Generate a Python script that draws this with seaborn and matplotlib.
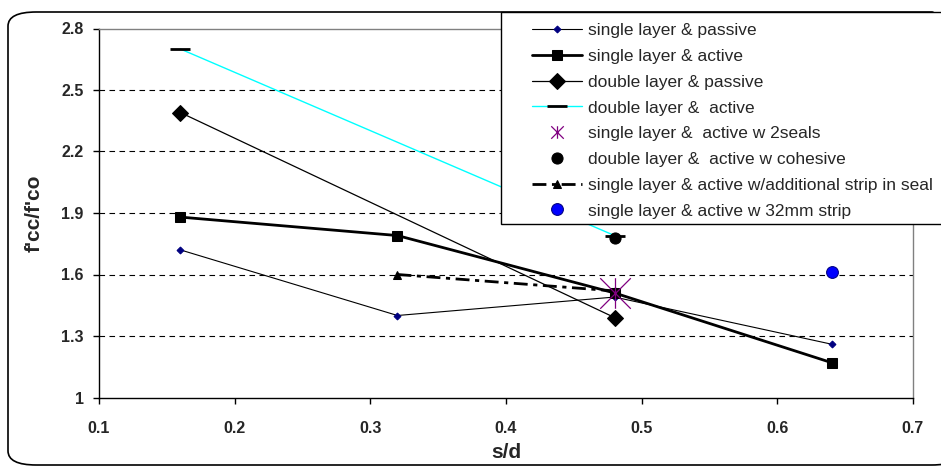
import numpy as np
import pandas as pd
import matplotlib
matplotlib.use("Agg")
import matplotlib.pyplot as plt
import seaborn as sns
from matplotlib.patches import FancyBboxPatch, Rectangle
from matplotlib.path import Path
from matplotlib.lines import Line2D

# ----------------------------
# DATA
# ----------------------------
sd_four = [0.16, 0.32, 0.48, 0.64]
sd_two = [0.16, 0.48]

single_passive = [1.72, 1.40, 1.49, 1.26]
single_active = [1.88, 1.79, 1.51, 1.17]
double_passive = [2.39, 1.39]
double_active = [2.70, 1.79]

sd_strip = [0.32, 0.48]
single_active_strip = [1.60, 1.52]

sd_2seals = [0.48]
single_active_2seals = [1.51]
sd_cohesive = [0.48]
double_active_cohesive = [1.78]
sd_32mm = [0.64]
single_active_32mm = [1.61]

x_ticks = [0.1, 0.2, 0.3, 0.4, 0.5, 0.6, 0.7]
y_ticks = [1.0, 1.3, 1.6, 1.9, 2.2, 2.5, 2.8]

# ----------------------------
# STYLE
# ----------------------------
sns.set_theme(style="white")
plt.rcParams['font.family'] = ['Liberation Sans', 'DejaVu Sans']

W, H = 941, 470
fig = plt.figure(figsize=(W / 100, H / 100), dpi=100)

# rounded chart border
fig.patches.append(FancyBboxPatch((8 / W, 1 - 465 / H), (960 - 8) / W, (465 - 12) / H,
                                  boxstyle="round,pad=0,rounding_size=0.03",
                                  transform=fig.transFigure, fill=False,
                                  edgecolor="black", linewidth=1.2, zorder=0.5))

ax = fig.add_axes([99 / W, 1 - 397.5 / H, (913 - 99) / W, (397.5 - 28.5) / H])
ax.set_facecolor("none")

# Excel-like asterisk: X plus vertical bar
star = Path([(-1, -1), (1, 1), (-1, 1), (1, -1), (0, -1), (0, 1)],
            [Path.MOVETO, Path.LINETO, Path.MOVETO, Path.LINETO, Path.MOVETO, Path.LINETO])

for y in y_ticks[1:-1]:
    ax.axhline(y, color="black", linestyle=(0, (5, 4)), linewidth=0.8, zorder=1)

sns.lineplot(x=sd_four, y=single_passive, ax=ax, color="black", linewidth=0.8,
             marker="D", markersize=3.5, markerfacecolor="#000080", markeredgecolor="#000080",
             label="single layer & passive", zorder=3)
sns.lineplot(x=sd_four, y=single_active, ax=ax, color="black", linewidth=2,
             marker="s", markersize=7, markerfacecolor="black", markeredgecolor="black",
             label="single layer & active", zorder=3)
sns.lineplot(x=sd_two, y=double_passive, ax=ax, color="black", linewidth=0.9,
             marker="D", markersize=8, markerfacecolor="black", markeredgecolor="black",
             label="double layer & passive", zorder=3)
sns.lineplot(x=sd_two, y=double_active, ax=ax, color="#00FFFF", linewidth=1,
             marker="_", markersize=15, markeredgewidth=2, markeredgecolor="black",
             label="double layer &  active", zorder=3)
sns.lineplot(x=sd_2seals, y=single_active_2seals, ax=ax, color="#800080", linestyle="none",
             marker=star, markersize=22, markeredgewidth=0.9, markeredgecolor="#800080",
             label="single layer &  active w 2seals", zorder=4)
sns.lineplot(x=sd_cohesive, y=double_active_cohesive, ax=ax, color="black", linestyle="none",
             marker="o", markersize=8, markerfacecolor="black", markeredgecolor="black",
             label="double layer &  active w cohesive", zorder=4)
sns.lineplot(x=sd_strip, y=single_active_strip, ax=ax, color="black", linewidth=2,
             linestyle=(0, (5, 2, 1.5, 2)),
             marker="^", markersize=6, markerfacecolor="black", markeredgecolor="black",
             label="single layer & active w/additional strip in seal", zorder=3)
sns.lineplot(x=sd_32mm, y=single_active_32mm, ax=ax, color="#0000FF", linestyle="none",
             marker="o", markersize=8.5, markerfacecolor="#0000FF", markeredgecolor="#000080",
             label="single layer & active w 32mm strip", zorder=4)

handles, labels = ax.get_legend_handles_labels()
ax.get_legend().remove()
# smaller asterisk in the legend
handles[4] = Line2D([], [], color="#800080", linestyle="none", marker=star,
                    markersize=9, markeredgewidth=0.9, markeredgecolor="#800080")

ax.set_xlim(0.1, 0.7)
ax.set_ylim(1.0, 2.8)
ax.set_xticks(x_ticks)
ax.set_yticks(y_ticks)
ax.set_xticklabels([f"{v:g}" for v in x_ticks], fontweight="bold", fontsize=11.5)
ax.set_yticklabels([f"{v:g}" for v in y_ticks], fontweight="bold", fontsize=11.5)
ax.tick_params(axis="both", direction="out", length=4, width=1, color="black",
               bottom=True, left=True)
ax.tick_params(axis="y", pad=7)
ax.tick_params(axis="x", pad=13)

for side in ["left", "bottom"]:
    ax.spines[side].set_color("black")
    ax.spines[side].set_linewidth(1)
for side in ["top", "right"]:
    ax.spines[side].set_color("#808080")
    ax.spines[side].set_linewidth(1)

fig.text(34 / W, 1 - 213 / H, "f'cc/f'co", rotation=90, ha="center", va="center",
         fontweight="bold", fontsize=15)
fig.text(506 / W, 1 - 453 / H, "s/d", ha="center", va="center",
         fontweight="bold", fontsize=15)

# legend box
fig.patches.append(Rectangle((501 / W, 1 - 224 / H), (960 - 501) / W, (224 - 12) / H,
                             transform=fig.transFigure, facecolor="white",
                             edgecolor="black", linewidth=1, zorder=4))
fig.legend(handles, labels, loc="upper left", bbox_to_anchor=(520 / W, 1 - 11 / H),
           frameon=False, fontsize=12.5, handlelength=2.9, handletextpad=0.3,
           labelspacing=0.61, borderpad=0.2).set_zorder(5)

fig.savefig("out.png", dpi=100)
